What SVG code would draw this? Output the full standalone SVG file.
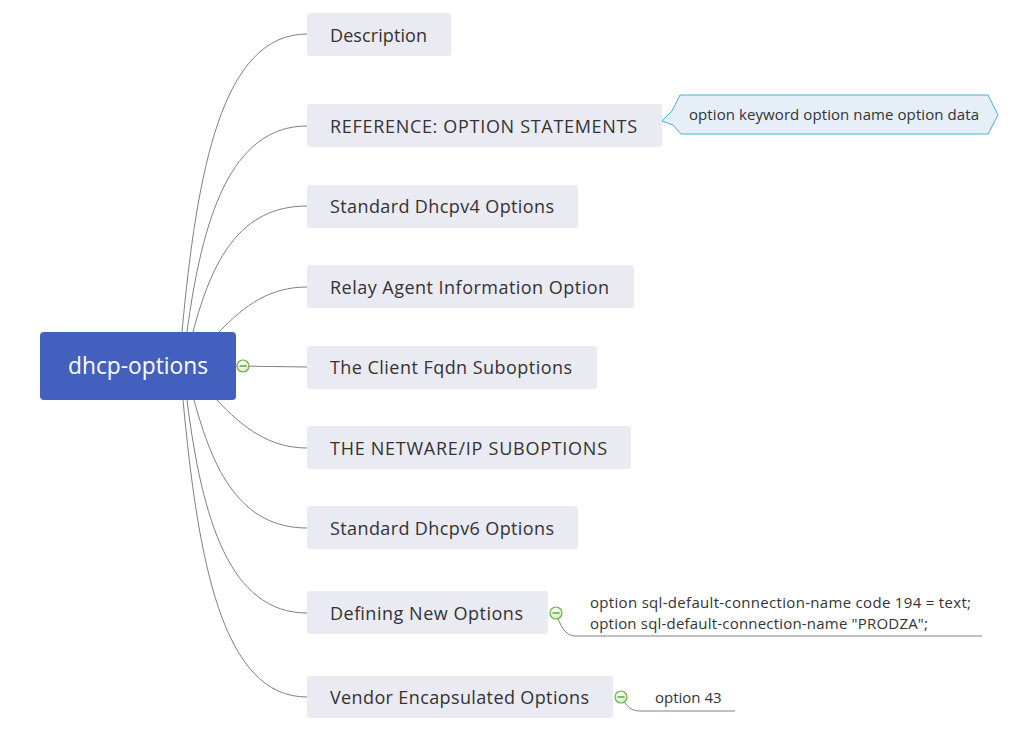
<svg xmlns="http://www.w3.org/2000/svg" width="1023" height="736" viewBox="0 0 1023 736">
<defs>
<radialGradient id="gc" cx="0.4" cy="0.35" r="0.7">
<stop offset="0" stop-color="#ffffff"/>
<stop offset="1" stop-color="#cfe8bf"/>
</radialGradient>
<style>
.topic rect{fill:#EAEAF2;}
.topic text{font-family:"Open Sans","Noto Sans",sans-serif;font-size:18px;fill:#333333;}
.conn path{fill:none;stroke:#808080;stroke-width:1;}
.col circle{fill:url(#gc);stroke:#6DB33F;stroke-width:1.2;}
.col line{stroke:#3E8E1E;stroke-width:1.2;}
.note{font-family:"Open Sans","Noto Sans",sans-serif;font-size:15px;fill:#333333;}
</style>
</defs>
<rect width="1023" height="736" fill="#ffffff"/>
<g id="connectors" class="conn">
<path d="M182 332 C197 170 222 34 307 34"/>
<path d="M187 332 C202 220 230 126 307 126"/>
<path d="M193 332 C212 260 240 206 307 206"/>
<path d="M219 332 C245 305 270 287 307 287"/>
<path d="M236 366 L307 367"/>
<path d="M217 400 C243 428 270 448 307 448"/>
<path d="M194 400 C213 470 240 528 307 528"/>
<path d="M187 400 C202 520 230 613 307 613"/>
<path d="M183 400 C198 560 222 697 307 697"/>
<path d="M556 613 C560 625 565 636 575 636 L982 636"/>
<path d="M621 697 C626 705 630 711 640 711 L735 711"/>
</g>
<g id="root">
<rect x="40" y="332" width="196" height="68" rx="4" fill="#4360BE"/>
<text x="68" y="374" textLength="140" lengthAdjust="spacingAndGlyphs" font-family="'Open Sans','Noto Sans',sans-serif" font-size="24" fill="#ffffff">dhcp-options</text>
</g>
<g id="root-collapse" class="col"><circle cx="243" cy="366" r="6"/><line x1="239.5" y1="366" x2="246.5" y2="366"/></g>
<g id="n1" class="topic"><rect x="307" y="13" width="144" height="43" rx="3"/><text x="330" y="42" textLength="97">Description</text></g>
<g id="n2" class="topic"><rect x="307" y="104" width="355" height="43" rx="3"/><text x="330" y="133" textLength="307">REFERENCE: OPTION STATEMENTS</text></g>
<g id="n2-callout">
<path d="M680 95 L988 95 L998 115 L988 134 L681 134 L673 125 L662 121 L672 111 Z" fill="#E6EEF7" stroke="#4BACD6" stroke-width="1"/>
<text class="note" x="689" y="120" textLength="290">option keyword option name option data</text>
</g>
<g id="n3" class="topic"><rect x="307" y="185" width="271" height="43" rx="3"/><text x="330" y="213" textLength="224">Standard Dhcpv4 Options</text></g>
<g id="n4" class="topic"><rect x="307" y="265" width="327" height="43" rx="3"/><text x="330" y="294" textLength="279">Relay Agent Information Option</text></g>
<g id="n5" class="topic"><rect x="307" y="346" width="290" height="43" rx="3"/><text x="330" y="374" textLength="242">The Client Fqdn Suboptions</text></g>
<g id="n6" class="topic"><rect x="307" y="426" width="324" height="43" rx="3"/><text x="330" y="455" textLength="277">THE NETWARE/IP SUBOPTIONS</text></g>
<g id="n7" class="topic"><rect x="307" y="506" width="271" height="43" rx="3"/><text x="330" y="535" textLength="224">Standard Dhcpv6 Options</text></g>
<g id="n8" class="topic"><rect x="307" y="591" width="241" height="43" rx="3"/><text x="330" y="620" textLength="193">Defining New Options</text></g>
<g id="n8-collapse" class="col"><circle cx="556" cy="613" r="6"/><line x1="552.5" y1="613" x2="559.5" y2="613"/></g>
<g id="n8-child">
<text class="note" x="590" y="608" textLength="381">option sql-default-connection-name code 194 = text;</text>
<text class="note" x="590" y="629" textLength="338">option sql-default-connection-name "PRODZA";</text>
</g>
<g id="n9" class="topic"><rect x="307" y="676" width="306" height="42" rx="3"/><text x="330" y="704" textLength="259">Vendor Encapsulated Options</text></g>
<g id="n9-collapse" class="col"><circle cx="621" cy="697" r="6"/><line x1="617.5" y1="697" x2="624.5" y2="697"/></g>
<g id="n9-child"><text class="note" x="655" y="703">option 43</text></g>
</svg>
